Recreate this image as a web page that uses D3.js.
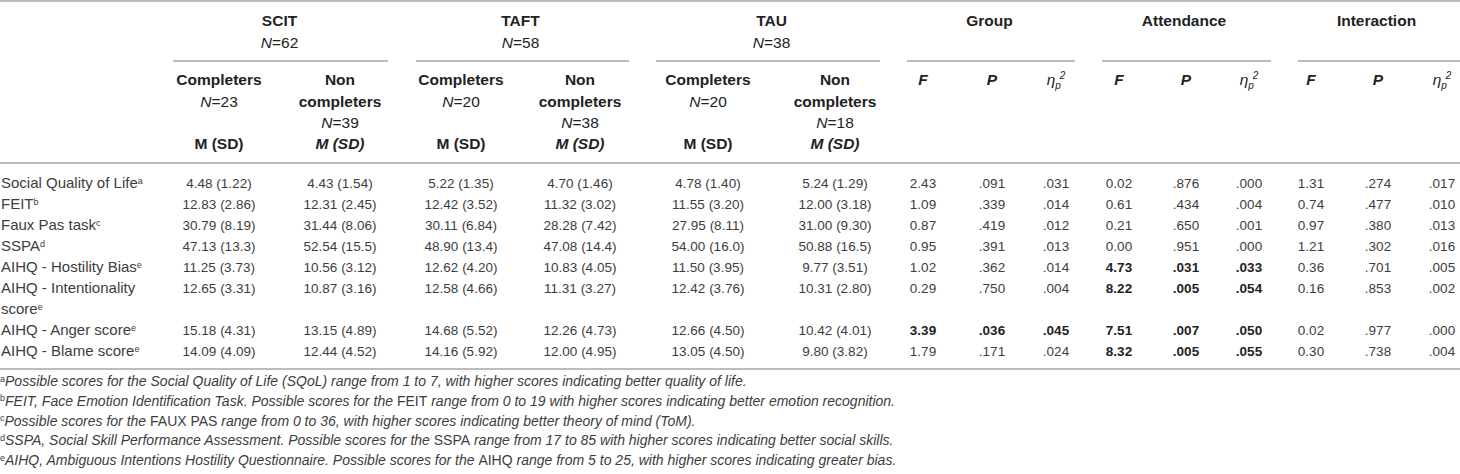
<!DOCTYPE html>
<html><head><meta charset="utf-8">
<script src="https://cdn.jsdelivr.net/npm/d3@7/dist/d3.min.js"></script>
<style>body{margin:0;background:#fff}svg{display:block}</style>
</head><body>
<svg id="chart" width="1460" height="474"></svg>
<script>
// ---------- data ----------
const measures = ["Social Quality of Life","FEIT","Faux Pas task","SSPA","AIHQ - Hostility Bias","AIHQ - Intentionality score","AIHQ - Anger score","AIHQ - Blame score"];
const measureNotes = ["a","b","c","d","e","e","e","e"];
const groups = ["SCIT","TAFT","TAU"];
const groupN = [62,58,38];
const completersN = [23,20,20];
const nonCompletersN = [39,38,18];

const scitCompleters    = ["4.48 (1.22)","12.83 (2.86)","30.79 (8.19)","47.13 (13.3)","11.25 (3.73)","12.65 (3.31)","15.18 (4.31)","14.09 (4.09)"];
const scitNonCompleters = ["4.43 (1.54)","12.31 (2.45)","31.44 (8.06)","52.54 (15.5)","10.56 (3.12)","10.87 (3.16)","13.15 (4.89)","12.44 (4.52)"];
const taftCompleters    = ["5.22 (1.35)","12.42 (3.52)","30.11 (6.84)","48.90 (13.4)","12.62 (4.20)","12.58 (4.66)","14.68 (5.52)","14.16 (5.92)"];
const taftNonCompleters = ["4.70 (1.46)","11.32 (3.02)","28.28 (7.42)","47.08 (14.4)","10.83 (4.05)","11.31 (3.27)","12.26 (4.73)","12.00 (4.95)"];
const tauCompleters     = ["4.78 (1.40)","11.55 (3.20)","27.95 (8.11)","54.00 (16.0)","11.50 (3.95)","12.42 (3.76)","12.66 (4.50)","13.05 (4.50)"];
const tauNonCompleters  = ["5.24 (1.29)","12.00 (3.18)","31.00 (9.30)","50.88 (16.5)","9.77 (3.51)","10.31 (2.80)","10.42 (4.01)","9.80 (3.82)"];

const effects = ["Group","Attendance","Interaction"];
const groupF   = [2.43,1.09,0.87,0.95,1.02,0.29,3.39,1.79];
const groupP   = [0.091,0.339,0.419,0.391,0.362,0.750,0.036,0.171];
const groupEta = [0.031,0.014,0.012,0.013,0.014,0.004,0.045,0.024];
const attF     = [0.02,0.61,0.21,0.00,4.73,8.22,7.51,8.32];
const attP     = [0.876,0.434,0.650,0.951,0.031,0.005,0.007,0.005];
const attEta   = [0.000,0.004,0.001,0.000,0.033,0.054,0.050,0.055];
const intF     = [1.31,0.74,0.97,1.21,0.36,0.16,0.02,0.30];
const intP     = [0.274,0.477,0.380,0.302,0.701,0.853,0.977,0.738];
const intEta   = [0.017,0.010,0.013,0.016,0.005,0.002,0.000,0.004];

const footnoteMarks = ["a","b","c","d","e"];
// odd-index segments are set upright
const footnotes = [
  ["Possible scores for the Social Quality of Life (SQoL) range from 1 to 7, with higher scores indicating better quality of life."],
  ["FEIT, Face Emotion Identification Task. Possible scores for the ","FEIT"," range from 0 to 19 with higher scores indicating better emotion recognition."],
  ["Possible scores for the ","FAUX PAS"," range from 0 to 36, with higher scores indicating better theory of mind (ToM)."],
  ["SSPA, Social Skill Performance Assessment. Possible scores for the ","SSPA"," range from 17 to 85 with higher scores indicating better social skills."],
  ["AIHQ, Ambiguous Intentions Hostility Questionnaire. Possible scores for the ","AIHQ"," range from 5 to 25, with higher scores indicating greater bias."]
];

// ---------- layout ----------
const FONT = "'Liberation Sans', Arial, Helvetica, sans-serif";
const BODY = 13.5, LABEL = 15, NOTE = 14, HEAD = 15.5, SUP = 9;
const TXT = "#3d3d3d", HTXT = "#222", RULE = "#bdbdbd";

const colKeys = ["scitC","scitN","taftC","taftN","tauC","tauN","gF","gP","gE","aF","aP","aE","iF","iP","iE"];
const x = d3.scaleOrdinal().domain(colKeys)
  .range([219,340,461,580,708,835,923,992,1056,1119,1186,1249,1311,1378,1442]);
const spanRules = d3.scaleOrdinal().domain(["SCIT","TAFT","TAU","Group","Attendance","Interaction"])
  .range([[173,388],[416,629],[656,880],[907,1075],[1102,1271],[1298,1460]]);
const hy = d3.scaleLinear().domain([0,1]).range([21,43]);
const sy = d3.scaleLinear().domain([0,3]).range([80,144]);
const ry = d3.scaleLinear().domain([0,8]).range([183,351]);
const fy = d3.scaleLinear().domain([0,4]).range([386,465]);
const measureLine = [0,1,2,3,4,5,7,8];

const svg = d3.select("#chart").attr("font-family", FONT);

const hr = (y, x1, x2) => svg.append("line").attr("x1",x1).attr("x2",x2).attr("y1",y).attr("y2",y)
  .attr("stroke",RULE).attr("stroke-width",2);
hr(1,0,1460); hr(163,0,1460); hr(369,0,1460);
[...groups, ...effects].forEach(g => { const [a,b] = spanRules(g); hr(61,a,b); });

const grpCols = [["scitC","scitN"],["taftC","taftN"],["tauC","tauN"]];
groups.forEach((g,i) => {
  const cx = (x(grpCols[i][0]) + x(grpCols[i][1])) / 2;
  svg.append("text").attr("x",cx).attr("y",hy(0)).attr("dy","0.35em").attr("text-anchor","middle")
    .attr("font-size",HEAD).attr("font-weight","bold").attr("fill",HTXT).text(g);
  const t = svg.append("text").attr("x",cx).attr("y",hy(1)).attr("dy","0.35em").attr("text-anchor","middle")
    .attr("font-size",HEAD).attr("fill",HTXT);
  t.append("tspan").attr("font-style","italic").text("N");
  t.append("tspan").text("=" + groupN[i]);
});
const effCols = [["gF","gE"],["aF","aE"],["iF","iE"]];
effects.forEach((e,i) => {
  const cx = (x(effCols[i][0]) + x(effCols[i][1])) / 2;
  svg.append("text").attr("x",cx).attr("y",hy(0)).attr("dy","0.35em").attr("text-anchor","middle")
    .attr("font-size",HEAD).attr("font-weight","bold").attr("fill",HTXT).text(e);
});

const nLine = (cx, y, n) => {
  const t = svg.append("text").attr("x",cx).attr("y",y).attr("dy","0.35em").attr("text-anchor","middle")
    .attr("font-size",HEAD).attr("fill",HTXT);
  t.append("tspan").attr("font-style","italic").text("N");
  t.append("tspan").text("=" + n);
};
const bLine = (cx, y, s, italic) => svg.append("text").attr("x",cx).attr("y",y).attr("dy","0.35em")
  .attr("text-anchor","middle").attr("font-size",HEAD).attr("font-weight","bold")
  .attr("font-style", italic ? "italic" : "normal").attr("fill",HTXT).text(s);
groups.forEach((g,i) => {
  const c = x(grpCols[i][0]), n = x(grpCols[i][1]);
  bLine(c, sy(0), "Completers");
  nLine(c, sy(1), completersN[i]);
  bLine(c, sy(3), "M (SD)");
  bLine(n, sy(0), "Non");
  bLine(n, sy(1), "completers");
  nLine(n, sy(2), nonCompletersN[i]);
  bLine(n, sy(3), "M (SD)", true);
});
effects.forEach((e,i) => {
  const keys = colKeys.slice(6 + i*3, 9 + i*3);
  bLine(x(keys[0]), sy(0), "F", true);
  bLine(x(keys[1]), sy(0), "P", true);
  const t = svg.append("text").attr("x",x(keys[2])).attr("y",sy(0)).attr("dy","0.35em")
    .attr("text-anchor","middle").attr("font-size",HEAD).attr("font-style","italic").attr("fill",HTXT);
  t.append("tspan").text("η");
  t.append("tspan").attr("font-size",10).attr("dy",4).text("p");
  t.append("tspan").attr("font-size",10).attr("dx",-1).attr("dy",-10).text("2");
});

const label = (lineIdx, s, note) => {
  const t = svg.append("text").attr("x",1).attr("y",ry(lineIdx)).attr("dy","0.35em")
    .attr("font-size",LABEL).attr("fill",TXT);
  t.append("tspan").text(s);
  if (note) t.append("tspan").attr("font-size",SUP).attr("dy",-4.5).text(note);
};
measures.forEach((m,i) => {
  if (m === "AIHQ - Intentionality score") {
    label(measureLine[i], "AIHQ - Intentionality");
    label(measureLine[i] + 1, "score", measureNotes[i]);
  } else label(measureLine[i], m, measureNotes[i]);
});

const descCols = [scitCompleters, scitNonCompleters, taftCompleters, taftNonCompleters, tauCompleters, tauNonCompleters];
descCols.forEach((col,ci) => {
  svg.append("g").selectAll("text").data(col).join("text")
    .attr("x", x(colKeys[ci])).attr("y",(d,i) => ry(measureLine[i])).attr("dy","0.35em")
    .attr("text-anchor","middle").attr("font-size",BODY).attr("fill",TXT).text(d => d);
});

const fmtF = d3.format(".2f");
const fmt3 = v => d3.format(".3f")(v).replace(/^0/, "");
const statSets = [[groupF,groupP,groupEta],[attF,attP,attEta],[intF,intP,intEta]];
statSets.forEach((set,ei) => {
  const pArr = set[1];
  set.forEach((arr,k) => {
    svg.append("g").selectAll("text").data(arr).join("text")
      .attr("x", x(colKeys[6 + ei*3 + k])).attr("y",(d,i) => ry(measureLine[i])).attr("dy","0.35em")
      .attr("text-anchor","middle").attr("font-size",BODY)
      .attr("font-weight",(d,i) => pArr[i] < 0.05 ? "bold" : "normal")
      .attr("fill",(d,i) => pArr[i] < 0.05 ? HTXT : TXT)
      .text(d => k === 0 ? fmtF(d) : fmt3(d));
  });
});

footnotes.forEach((segs,i) => {
  const t = svg.append("text").attr("x",0).attr("y",fy(i)).attr("dy","0.35em")
    .attr("font-size",NOTE).attr("fill",TXT);
  t.append("tspan").attr("font-size",SUP).attr("dy",-4.5).text(footnoteMarks[i]);
  segs.forEach((s,j) => {
    const ts = t.append("tspan").attr("font-style", j % 2 ? "normal" : "italic").text(s);
    if (j === 0) ts.attr("dy",4.5);
  });
});
</script>
</body></html>
